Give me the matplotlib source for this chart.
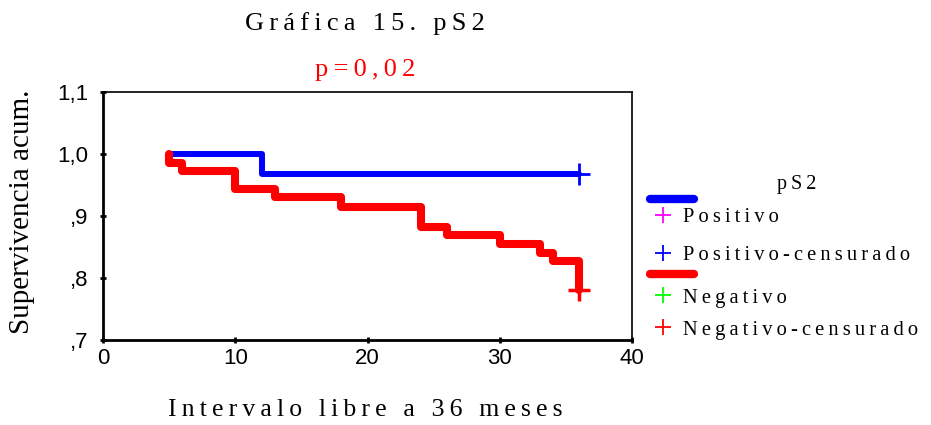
import matplotlib
matplotlib.use("Agg")
import matplotlib.pyplot as plt
from matplotlib.lines import Line2D

# Kaplan-Meier curves
pos_time = [5, 12, 36]
pos_surv = [1.0, 0.967, 0.967]
neg_time = [5, 5, 6, 10, 13, 18, 24, 26, 30, 33, 34, 36]
neg_surv = [1.0, 0.986, 0.972, 0.944, 0.930, 0.915, 0.883, 0.869, 0.855, 0.841, 0.827, 0.78]
pos_cens = ([36], [0.967])
neg_cens = ([36], [0.78])

yticks = [0.7, 0.8, 0.9, 1.0, 1.1]
ytick_labels = [",7", ",8", ",9", "1,0", "1,1"]
xticks = [0, 10, 20, 30, 40]

title = "Gráfica 15. pS2"
subtitle = "p=0,02"
xlabel = "Intervalo libre a 36 meses"
ylabel = "Supervivencia acum."
legend_title = "pS2"
legend_labels = ["Positivo", "Positivo-censurado", "Negativo", "Negativo-censurado"]
legend_colors = ["#ff00ff", "#0000ff", "#00ff00", "#ff0000"]

serif = ["Liberation Serif", "DejaVu Serif"]
sans = ["Liberation Sans", "DejaVu Sans"]


def track(s):
    # old SPSS output draws text with wide letter spacing
    return "\u2009".join(s)


fig = plt.figure(figsize=(9.31, 4.25), dpi=100)
ax = fig.add_axes([0.1106, 0.2, 0.5685, 0.5835])

ax.plot(pos_time, pos_surv, drawstyle="steps-post", color="#0000ff", lw=4.3,
        solid_capstyle="round", solid_joinstyle="round")
ax.plot(neg_time, neg_surv, drawstyle="steps-post", color="#ff0000", lw=5.8,
        solid_capstyle="round", solid_joinstyle="round")
ax.plot(*pos_cens, "+", color="#0000ff", ms=16, mew=2)
ax.plot(*neg_cens, "+", color="#ff0000", ms=16, mew=2.5)

ax.set_xlim(0, 40)
ax.set_ylim(0.7, 1.1)
ax.set_xticks(xticks)
ax.set_yticks(yticks)
ax.set_yticklabels(ytick_labels)
ax.tick_params(direction="inout", length=5, width=2, labelsize=16)
ax.tick_params(axis="y", pad=8)
ax.tick_params(axis="x", pad=3)
for lab in ax.get_xticklabels() + ax.get_yticklabels():
    lab.set_fontfamily(sans)
for sp in ax.spines.values():
    sp.set_linewidth(1.2)
ax.spines["left"].set_linewidth(2)
ax.spines["bottom"].set_linewidth(2)

ax.set_ylabel(ylabel, fontsize=21, fontfamily=serif, va="center")
ax.yaxis.set_label_coords(-0.153, 0.516)

fig.text(0.392, 0.945, track(title), fontsize=19, fontfamily=serif,
         ha="center", va="center")
fig.text(0.392, 0.835, track(subtitle), fontsize=19, fontfamily=serif, color="#ff0000",
         ha="center", va="center")
fig.text(0.392, 0.035, track(xlabel), fontsize=18.5, fontfamily=serif,
         ha="center", va="center")

# legend drawn in figure pixels
def fx(px):
    return px / 931

def fy(py):
    return 1 - py / 425

fig.text(fx(797), fy(185), track(legend_title), fontsize=14.5, fontfamily=serif,
         ha="center", va="center")
line_rows = [(199, "#0000ff"), (274, "#ff0000")]
for yy, c in line_rows:
    fig.add_artist(Line2D([fx(650), fx(694)], [fy(yy), fy(yy)], color=c, lw=6,
                          solid_capstyle="round"))
text_rows = [218, 256, 298, 330]
for yy, lab, c in zip(text_rows, legend_labels, legend_colors):
    fig.add_artist(Line2D([fx(663)], [fy(yy - 3)], marker="+", ms=11, mew=1.3, color=c))
    fig.text(fx(683), fy(yy), track(lab), fontsize=14.8, fontfamily=serif,
             ha="left", va="center")

fig.savefig("out.png", dpi=100)
